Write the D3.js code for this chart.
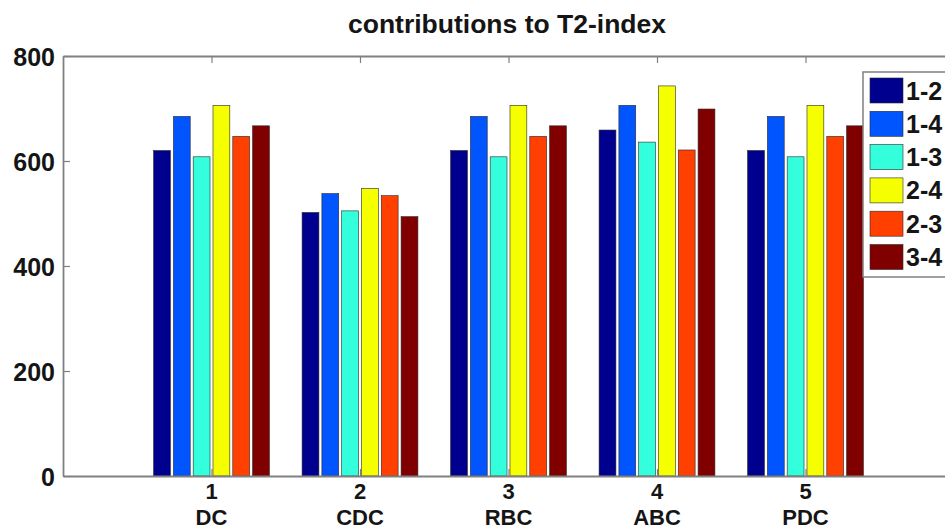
<!DOCTYPE html>
<html>
<head>
<meta charset="utf-8">
<script src="https://cdn.jsdelivr.net/npm/d3@7"></script>
<style>
  html, body { margin: 0; padding: 0; background: #fff; }
  svg { display: block; font-family: "Liberation Sans", Arial, sans-serif; }
</style>
</head>
<body>
<svg id="chart" width="945" height="531"></svg>
<script>
// Group positions (tick numbers) and the method names printed under them
const groupTicks = [1, 2, 3, 4, 5];
const methods = ["DC", "CDC", "RBC", "ABC", "PDC"];

// Node pairs, one bar per pair in each group
const pairs = ["1-2", "1-4", "1-3", "2-4", "2-3", "3-4"];

// Contribution of each pair, per method (DC, CDC, RBC, ABC, PDC)
const pair12 = [620, 502, 620, 659, 620];
const pair14 = [685, 538, 685, 706, 685];
const pair13 = [608, 505, 608, 636, 608];
const pair24 = [706, 548, 706, 743, 706];
const pair23 = [647, 534, 647, 621, 647];
const pair34 = [667, 494, 667, 699, 667];

const yTicks = [0, 200, 400, 600, 800];
const pairColors = ["#00008F", "#0055FF", "#33FFDD", "#F5FF00", "#FF4000", "#800000"];

const seriesValues = [pair12, pair14, pair13, pair24, pair23, pair34];

const svg = d3.select("#chart");

const plotLeft = 63, plotTop = 56, plotBottom = 476, plotRight = 954;
const x = d3.scaleLinear().domain([0, 6]).range([plotLeft, plotRight]);
const y = d3.scaleLinear().domain([0, 800]).range([plotBottom, plotTop]);

// grouped bar geometry, in data units
const groupWidth = 0.8;
const step = groupWidth / pairs.length;
const barWidth = step * 0.85;

const color = d3.scaleOrdinal().domain(pairs).range(pairColors);

const labelSize = 25;
const xLabelSize = 22;
const textColor = "#151515";

// Bars
const bars = [];
seriesValues.forEach((vals, si) => {
  vals.forEach((v, gi) => {
    bars.push({ pair: pairs[si], si, g: groupTicks[gi], v });
  });
});

svg.append("g")
  .selectAll("rect")
  .data(bars)
  .join("rect")
  .attr("x", d => x(d.g - groupWidth / 2 + step * d.si + (step - barWidth) / 2))
  .attr("width", d => x(barWidth) - x(0))
  .attr("y", d => y(d.v))
  .attr("height", d => y(0) - y(d.v))
  .attr("fill", d => color(d.pair))
  .attr("stroke", "#2a2a2a")
  .attr("stroke-width", 0.6);

// Axes (box style: left, bottom, top)
const axisColor = "#808080";
const yAxis = d3.axisLeft(y).tickValues(yTicks).tickSizeInner(-7).tickSizeOuter(0).tickPadding(8);
const gy = svg.append("g").attr("transform", `translate(${plotLeft},0)`).call(yAxis);
gy.select(".domain").attr("stroke", axisColor).attr("stroke-width", 1.8);
gy.selectAll(".tick line").attr("stroke", axisColor).attr("stroke-width", 1.2);
gy.selectAll(".tick text")
  .attr("font-family", "Liberation Sans, Arial, sans-serif")
  .attr("font-size", labelSize).attr("font-weight", "bold").attr("fill", textColor)
  .attr("dy", "0.36em");

const xAxis = d3.axisBottom(x).tickValues(groupTicks).tickSizeInner(-7).tickSizeOuter(0).tickFormat("");
const gx = svg.append("g").attr("transform", `translate(0,${plotBottom})`).call(xAxis);
gx.select(".domain").attr("stroke", axisColor).attr("stroke-width", 1.8);
gx.selectAll(".tick line").attr("stroke", axisColor).attr("stroke-width", 1.2);

const xAxisTop = d3.axisTop(x).tickValues(groupTicks).tickSizeInner(-7).tickSizeOuter(0).tickFormat("");
const gt = svg.append("g").attr("transform", `translate(0,${plotTop})`).call(xAxisTop);
gt.select(".domain").attr("stroke", axisColor).attr("stroke-width", 1.8);
gt.selectAll(".tick line").attr("stroke", axisColor).attr("stroke-width", 1.2);

// Two-line x labels: group number, then method name
const xl = svg.append("g")
  .selectAll("g")
  .data(groupTicks)
  .join("g")
  .attr("transform", d => `translate(${x(d)},0)`);
xl.append("text")
  .attr("y", 499).attr("text-anchor", "middle")
  .attr("font-size", xLabelSize).attr("font-weight", "bold").attr("fill", textColor)
  .text(d => d);
xl.append("text")
  .attr("y", 525).attr("text-anchor", "middle")
  .attr("font-size", xLabelSize).attr("font-weight", "bold").attr("fill", textColor)
  .text((d, i) => methods[i]);

// Title
svg.append("text")
  .attr("x", 507).attr("y", 33).attr("text-anchor", "middle")
  .attr("font-size", 26.5).attr("font-weight", "bold").attr("fill", textColor)
  .text("contributions to T2-index");

// Legend
const lg = svg.append("g").attr("transform", "translate(863,72)");
lg.append("rect")
  .attr("x", 0).attr("y", 0).attr("width", 120).attr("height", 205)
  .attr("fill", "#fff").attr("stroke", axisColor).attr("stroke-width", 1.5);
const items = lg.selectAll("g.item")
  .data(pairs)
  .join("g")
  .attr("class", "item")
  .attr("transform", (d, i) => `translate(7,${6 + i * 33.3})`);
items.append("rect")
  .attr("width", 33).attr("height", 25)
  .attr("fill", d => color(d))
  .attr("stroke", "#2a2a2a").attr("stroke-width", 0.6);
items.append("text")
  .attr("x", 36).attr("y", 12.5).attr("dy", "0.36em")
  .attr("font-size", labelSize).attr("font-weight", "bold").attr("fill", textColor)
  .text(d => d);
</script>
</body>
</html>
